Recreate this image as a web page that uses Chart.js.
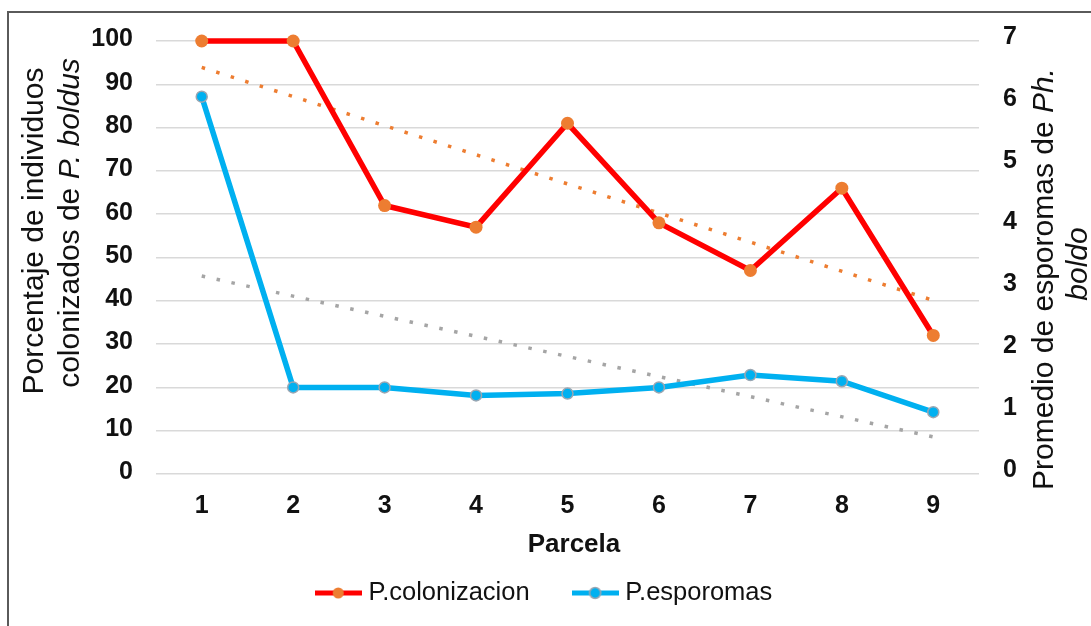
<!DOCTYPE html>
<html><head><meta charset="utf-8">
<script src="https://cdn.jsdelivr.net/npm/chart.js@4/dist/chart.umd.min.js"></script>
<style>html,body{margin:0;padding:0;background:#fff;overflow:hidden}canvas{display:block}</style>
</head><body>
<canvas id="c" width="1091" height="626"></canvas>
<script>
// ---- data ----
const parcelas = ['1','2','3','4','5','6','7','8','9'];
const colonizacion = [100, 100, 62, 57, 81, 58, 47, 66, 32];          // left axis (%)
const esporomas = [6.1, 1.4, 1.4, 1.27, 1.3, 1.4, 1.6, 1.5, 1.0];      // right axis
const trendColonizacionEnds = [93.9, 40.1];   // linear trend at parcela 1 and 9
const trendEsporomasEnds = [3.2, 0.6];
const leftAxisRange = [0, 100, 10];
const rightAxisRange = [0, 7, 1];
const serieNames = ['P.colonizacion', 'P.esporomas'];

const FONT = '"Liberation Sans", Arial, sans-serif';
const TXT = '#111111';

function legendSymbol(lineColor, fill, stroke) {
  const c = document.createElement('canvas');
  c.width = 47; c.height = 14;
  const g = c.getContext('2d');
  g.strokeStyle = lineColor; g.lineWidth = 5;
  g.beginPath(); g.moveTo(0, 7); g.lineTo(47, 7); g.stroke();
  g.beginPath(); g.arc(23.5, 7, 5.5, 0, Math.PI * 2);
  g.fillStyle = fill; g.fill();
  if (stroke) { g.strokeStyle = stroke; g.lineWidth = 1.5; g.stroke(); }
  return c;
}
const symCol = legendSymbol('#FF0000', '#ED7D31', null);
const symEsp = legendSymbol('#00B0F0', '#00B0F0', '#9AA6B2');

function drawRotLine(ctx, segs, cx, cy, size, bold) {
  ctx.save();
  ctx.translate(cx, cy);
  ctx.rotate(-Math.PI / 2);
  ctx.textBaseline = 'middle';
  ctx.textAlign = 'left';
  ctx.fillStyle = TXT;
  const fonts = segs.map(s => (s.i ? 'italic ' : '') + (bold ? 'bold ' : '') + size + 'px ' + FONT);
  let total = 0;
  const widths = segs.map((s, k) => { ctx.font = fonts[k]; const w = ctx.measureText(s.t).width; total += w; return w; });
  let x = -total / 2;
  segs.forEach((s, k) => { ctx.font = fonts[k]; ctx.fillText(s.t, x, 0); x += widths[k]; });
  ctx.restore();
}

const decor = {
  id: 'decor',
  beforeDraw(chart) {
    const ctx = chart.ctx;
    ctx.save();
    ctx.fillStyle = '#fff';
    ctx.fillRect(0, 0, chart.width, chart.height);
    ctx.strokeStyle = '#5a5a5a';
    ctx.lineWidth = 2;
    ctx.beginPath();
    ctx.moveTo(8, 630); ctx.lineTo(8, 12); ctx.lineTo(1095, 12);
    ctx.stroke();
    ctx.restore();
  },
  afterDraw(chart) {
    const ctx = chart.ctx;
    drawRotLine(ctx, [{t: 'Porcentaje de individuos'}], 35, 231, 30, false);
    drawRotLine(ctx, [{t: 'colonizados de '}, {t: 'P. boldus', i: true}], 71, 223, 30, false);
    drawRotLine(ctx, [{t: 'Promedio de esporomas de '}, {t: 'Ph.', i: true}], 1045, 279, 30, false);
    drawRotLine(ctx, [{t: 'boldo', i: true}], 1079, 264, 30, false);
    ctx.save();
    ctx.font = 'bold 26px ' + FONT;
    ctx.fillStyle = TXT;
    ctx.textAlign = 'center';
    ctx.textBaseline = 'middle';
    ctx.fillText('Parcela', 574, 545);
    ctx.restore();
  }
};

new Chart(document.getElementById('c'), {
  type: 'line',
  data: {
    labels: parcelas,
    datasets: [
      {
        label: serieNames[0], data: colonizacion, yAxisID: 'y', clip: false,
        borderColor: '#FF0000', borderWidth: 5.5, tension: 0,
        pointRadius: 6.5, pointBackgroundColor: '#ED7D31', pointBorderColor: '#ED7D31', pointBorderWidth: 0
      },
      {
        label: serieNames[1], data: esporomas, yAxisID: 'y1', clip: false,
        borderColor: '#00B0F0', borderWidth: 5.5, tension: 0,
        pointRadius: 5.5, pointBackgroundColor: '#00B0F0', pointBorderColor: '#9AA6B2', pointBorderWidth: 1.5
      },
      {
        label: 'trend1', yAxisID: 'y',
        data: [{x: parcelas[0], y: trendColonizacionEnds[0]}, {x: parcelas[parcelas.length - 1], y: trendColonizacionEnds[1]}],
        borderColor: '#ED7D31', borderWidth: 3.5, borderDash: [3.5, 11.7], pointRadius: 0, fill: false
      },
      {
        label: 'trend2', yAxisID: 'y1',
        data: [{x: parcelas[0], y: trendEsporomasEnds[0]}, {x: parcelas[parcelas.length - 1], y: trendEsporomasEnds[1]}],
        borderColor: '#A5A5A5', borderWidth: 3.5, borderDash: [3.5, 11.7], pointRadius: 0, fill: false
      }
    ]
  },
  options: {
    responsive: false,
    animation: false,
    devicePixelRatio: 1,
    layout: { padding: { left: 8, right: 6, top: 41, bottom: 10.25 } },
    plugins: {
      tooltip: { enabled: false },
      legend: {
        position: 'bottom',
        labels: {
          usePointStyle: true,
          pointStyleWidth: 35,
          padding: 48,
          color: TXT,
          font: { family: FONT, size: 25.5 },
          generateLabels: (chart) => [
            { text: serieNames[0], pointStyle: symCol, datasetIndex: 0, hidden: false, lineWidth: 0, fontColor: TXT },
            { text: serieNames[1], pointStyle: symEsp, datasetIndex: 1, hidden: false, lineWidth: 0, fontColor: TXT }
          ]
        }
      }
    },
    scales: {
      x: {
        type: 'category',
        offset: true,
        grid: { display: false, drawTicks: false },
        border: { display: false },
        ticks: { color: TXT, font: { family: FONT, size: 25, weight: 'bold' }, padding: 17, maxRotation: 0 },
        afterFit: s => { s.height = 58.25; }
      },
      y: {
        position: 'left',
        min: leftAxisRange[0], max: leftAxisRange[1],
        grid: { color: '#D9D9D9', lineWidth: 1.5, drawTicks: false },
        border: { display: false },
        ticks: { stepSize: leftAxisRange[2], color: TXT, font: { family: FONT, size: 25, weight: 'bold' }, padding: 23, labelOffset: -1.5 },
        afterFit: s => { s.width = 148; }
      },
      y1: {
        position: 'right',
        min: rightAxisRange[0], max: rightAxisRange[1],
        grid: { display: false, drawTicks: false },
        border: { display: false },
        ticks: { stepSize: rightAxisRange[2], color: TXT, font: { family: FONT, size: 25, weight: 'bold' }, padding: 24, labelOffset: -4 },
        afterFit: s => { s.width = 106; }
      }
    }
  },
  plugins: [decor]
});
</script>
</body></html>
